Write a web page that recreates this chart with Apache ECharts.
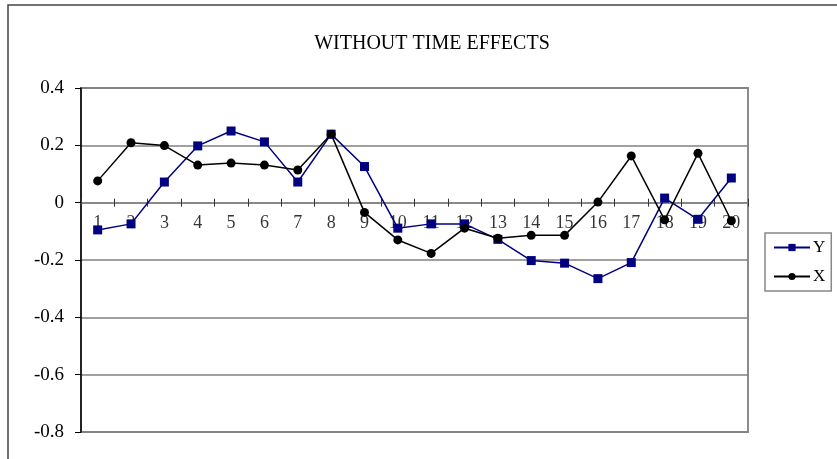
<!DOCTYPE html>
<html>
<head>
<meta charset="utf-8">
<script src="https://cdn.jsdelivr.net/npm/echarts@6/dist/echarts.min.js"></script>
<style>
  html, body { margin: 0; padding: 0; background: #fff; }
  #chart { width: 837px; height: 459px; }
</style>
</head>
<body>
<div id="chart"></div>
<script>
// Periods 1..20
var categories = ['1','2','3','4','5','6','7','8','9','10','11','12','13','14','15','16','17','18','19','20'];
// Series values per period
var seriesY = [-0.095, -0.074, 0.072, 0.198, 0.250, 0.212, 0.072, 0.239, 0.126, -0.089,
               -0.074, -0.074, -0.128, -0.202, -0.211, -0.265, -0.209, 0.016, -0.058, 0.086];
var seriesX = [0.076, 0.209, 0.199, 0.131, 0.138, 0.131, 0.114, 0.239, -0.034, -0.130,
               -0.177, -0.089, -0.124, -0.114, -0.114, 0.002, 0.163, -0.060, 0.172, -0.063];
// Value axis
var yMin = -0.8, yMax = 0.4, yStep = 0.2;
var titleText = 'WITHOUT TIME EFFECTS';

var serif = '"Liberation Serif", "DejaVu Serif", serif';
var chart = echarts.init(document.getElementById('chart'), null, { renderer: 'canvas' });

chart.setOption({
  animation: false,
  backgroundColor: '#fff',
  title: {
    text: titleText,
    left: 427, top: 29, textAlign: 'center',
    textStyle: { fontFamily: serif, fontWeight: 'normal', fontSize: 20, color: '#000' }
  },
  graphic: [{
    type: 'rect', silent: true, z: -1,
    shape: { x: 8, y: 5, width: 900, height: 500 },
    style: { fill: 'none', stroke: '#444', lineWidth: 1.5 }
  }],
  legend: {
    data: ['Y', 'X'],
    orient: 'vertical',
    left: 765, top: 233,
    padding: [6, 6, 6, 8],
    itemGap: 12,
    itemWidth: 36, itemHeight: 9,
    borderColor: '#888', borderWidth: 1.5, borderRadius: 0,
    textStyle: { fontFamily: serif, fontSize: 17, color: '#000', padding: [0, 0, 0, -2] }
  },
  grid: {
    left: 81, right: 89, top: 88, bottom: 27,
    show: true, borderColor: '#8c8c8c', borderWidth: 2, backgroundColor: 'transparent'
  },
  xAxis: [{
    // category axis sitting on the zero line, ticks pointing down
    type: 'category', data: categories, boundaryGap: true,
    position: 'bottom',
    axisLine: { onZero: true, onZeroAxisIndex: 0, lineStyle: { color: '#808080', width: 1.5 } },
    axisTick: { show: true, length: 4, lineStyle: { color: '#333', width: 1 } },
    axisLabel: { show: false },
    splitLine: { show: false }
  }, {
    // companion axis on the zero line with ticks pointing up, so the ticks cross the line
    type: 'category', data: categories, boundaryGap: true,
    position: 'top',
    axisLine: { onZero: true, onZeroAxisIndex: 1, show: false },
    axisTick: { show: true, length: 4, lineStyle: { color: '#333', width: 1 } },
    axisLabel: { show: false },
    splitLine: { show: false }
  }],
  yAxis: [{
    type: 'value', min: yMin, max: yMax, interval: yStep,
    position: 'left',
    axisLine: { show: true, lineStyle: { color: '#000', width: 1.5 } },
    axisTick: { show: true, length: 6, lineStyle: { color: '#000', width: 1 } },
    axisLabel: {
      margin: 17, fontFamily: serif, fontSize: 19, color: '#000',
      formatter: function (v) { var r = Math.round(v * 10) / 10; return r === 0 ? '0' : String(r); }
    },
    splitLine: { show: true, lineStyle: { color: '#808080', width: 1.5 } }
  }, {
    type: 'value', min: yMin, max: yMax, interval: yStep,
    position: 'right', show: false,
    splitLine: { show: false }
  }],
  series: [{
    // category labels hanging just below the zero line
    name: 'periods', type: 'scatter', silent: true,
    data: categories.map(function (c) { return [c, 0]; }),
    symbolSize: 0,
    label: {
      show: true, position: 'bottom', distance: 12,
      fontFamily: serif, fontSize: 18, color: '#000',
      formatter: function (p) { return p.value[0]; }
    },
    z: 1
  }, {
    name: 'Y', type: 'line', data: seriesY,
    symbol: 'rect', symbolSize: 9,
    itemStyle: { color: '#000080' },
    lineStyle: { color: '#000080', width: 1.5 },
    z: 3
  }, {
    name: 'X', type: 'line', data: seriesX,
    symbol: 'circle', symbolSize: 9,
    itemStyle: { color: '#000' },
    lineStyle: { color: '#000', width: 1.5 },
    z: 4
  }]
});
</script>
</body>
</html>
